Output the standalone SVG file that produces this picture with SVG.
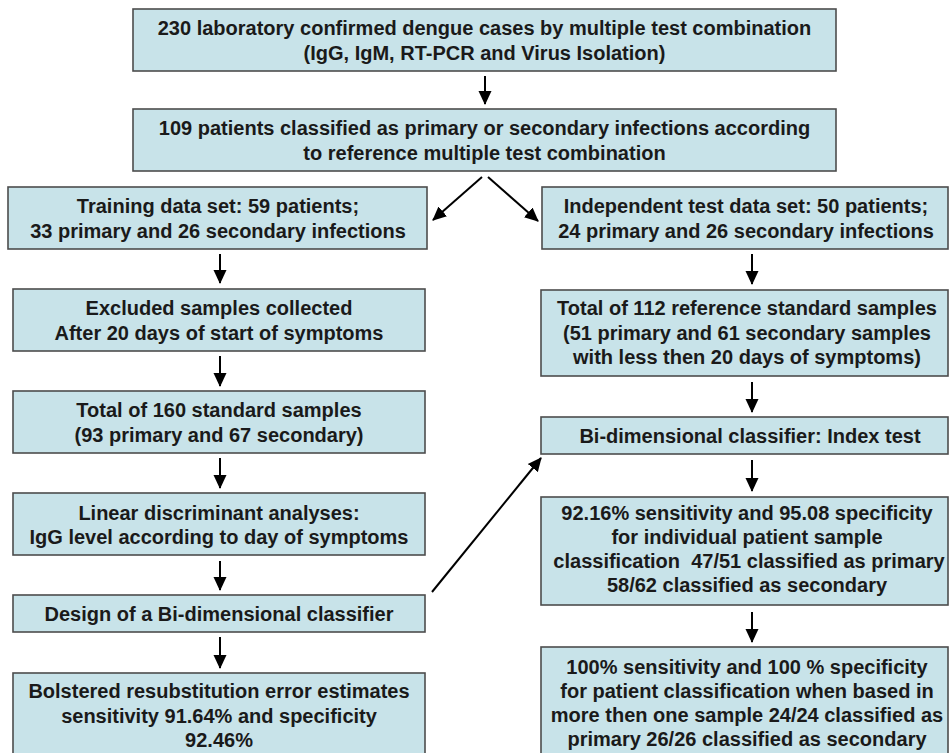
<svg xmlns="http://www.w3.org/2000/svg" width="950" height="753" viewBox="0 0 950 753">
<defs>
<style>
.box{fill:#c8e3e9;stroke:#4d4d4d;stroke-width:1.6}
.t{font-family:"Liberation Sans",Arial,sans-serif;font-weight:bold;font-size:20px;fill:#1a1a1a;text-anchor:middle}
.c{stroke:#000;stroke-width:2;fill:none;marker-end:url(#ah)}
</style>
<marker id="ah" markerUnits="userSpaceOnUse" markerWidth="14" markerHeight="14" refX="13" refY="6.5" orient="auto" viewBox="0 0 14 13">
<path d="M0,0 L14,6.5 L0,13 z" fill="#000"/>
</marker>
</defs>
<rect width="950" height="753" fill="#fff"/>

<g id="connectors">
<line class="c" x1="485" y1="76" x2="485" y2="104"/>
<line class="c" x1="482" y1="177" x2="433" y2="220"/>
<line class="c" x1="488" y1="177" x2="538" y2="221"/>
<line class="c" x1="220" y1="254" x2="220" y2="283"/>
<line class="c" x1="220" y1="356" x2="220" y2="386"/>
<line class="c" x1="220" y1="458" x2="220" y2="488"/>
<line class="c" x1="220" y1="561" x2="220" y2="590"/>
<line class="c" x1="220" y1="637" x2="220" y2="668"/>
<line class="c" x1="752" y1="254" x2="752" y2="284"/>
<line class="c" x1="752" y1="382" x2="752" y2="412"/>
<line class="c" x1="752" y1="460" x2="752" y2="491"/>
<line class="c" x1="752" y1="612" x2="752" y2="642"/>
<line class="c" x1="432" y1="592" x2="541" y2="458"/>
</g>

<g id="n1">
<rect class="box" x="133" y="9" width="703" height="62"/>
<text class="t" x="484.5" y="35">230 laboratory confirmed dengue cases by multiple test combination</text>
<text class="t" x="484.5" y="59.5">(IgG, IgM, RT-PCR and Virus Isolation)</text>
</g>

<g id="n2">
<rect class="box" x="133" y="109" width="703" height="62"/>
<text class="t" x="484.5" y="135">109 patients classified as primary or secondary infections according</text>
<text class="t" x="484.5" y="159.5">to reference multiple test combination</text>
</g>

<g id="n3">
<rect class="box" x="8" y="187" width="419" height="62"/>
<text class="t" x="218" y="213">Training data set: 59 patients;</text>
<text class="t" x="218" y="237.5">33 primary and 26 secondary infections</text>
</g>

<g id="n4">
<rect class="box" x="542" y="187" width="406" height="62"/>
<text class="t" x="746" y="213">Independent test data set: 50 patients;</text>
<text class="t" x="746" y="237.5">24 primary and 26 secondary infections</text>
</g>

<g id="n5">
<rect class="box" x="13" y="289" width="412" height="62"/>
<text class="t" x="219" y="315">Excluded samples collected</text>
<text class="t" x="219" y="339.5">After 20 days of start of symptoms</text>
</g>

<g id="n6">
<rect class="box" x="13" y="391" width="412" height="62"/>
<text class="t" x="219" y="417">Total of 160 standard samples</text>
<text class="t" x="219" y="441.5">(93 primary and 67 secondary)</text>
</g>

<g id="n7">
<rect class="box" x="13" y="493" width="412" height="62"/>
<text class="t" x="219" y="520">Linear discriminant analyses:</text>
<text class="t" x="219" y="544">IgG level according to day of symptoms</text>
</g>

<g id="n8">
<rect class="box" x="13" y="595" width="412" height="37"/>
<text class="t" x="219" y="620.5">Design of a Bi-dimensional classifier</text>
</g>

<g id="n9">
<rect class="box" x="13" y="673" width="412" height="90"/>
<text class="t" x="219" y="698">Bolstered resubstitution error estimates</text>
<text class="t" x="219" y="722.5">sensitivity 91.64% and specificity</text>
<text class="t" x="219" y="747">92.46%</text>
</g>

<g id="n10">
<rect class="box" x="541" y="290" width="407" height="86"/>
<text class="t" x="747" y="315">Total of 112 reference standard samples</text>
<text class="t" x="747" y="339.5">(51 primary and 61 secondary samples</text>
<text class="t" x="747" y="364">with less then 20 days of symptoms)</text>
</g>

<g id="n11">
<rect class="box" x="541" y="417" width="407" height="37"/>
<text class="t" x="750" y="443">Bi-dimensional classifier: Index test</text>
</g>

<g id="n12">
<rect class="box" x="541" y="497" width="407" height="108"/>
<text class="t" x="747" y="520">92.16% sensitivity and 95.08 specificity</text>
<text class="t" x="747" y="544">for individual patient sample</text>
<text class="t" x="749" y="568">classification&#160; 47/51 classified as primary</text>
<text class="t" x="747" y="592">58/62 classified as secondary</text>
</g>

<g id="n13">
<rect class="box" x="541" y="647" width="407" height="116"/>
<text class="t" x="747" y="674">100% sensitivity and 100 % specificity</text>
<text class="t" x="747" y="698">for patient classification when based in</text>
<text class="t" x="747" y="722">more then one sample 24/24 classified as</text>
<text class="t" x="747" y="746">primary 26/26 classified as secondary</text>
</g>
</svg>
